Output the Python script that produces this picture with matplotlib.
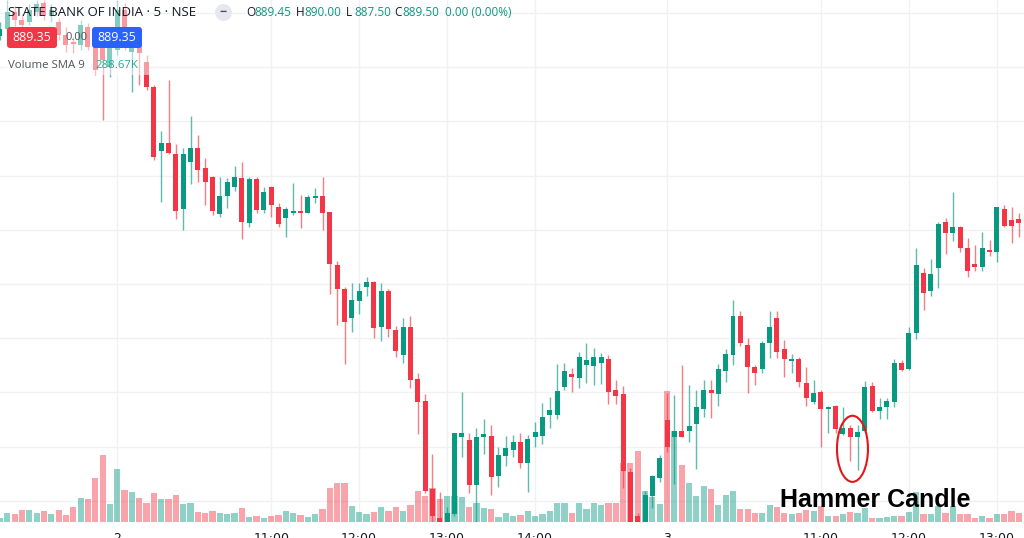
import numpy as np
import pandas as pd
import matplotlib
matplotlib.use('Agg')
import matplotlib.pyplot as plt
from matplotlib.patches import Ellipse, Circle, FancyBboxPatch, Rectangle
from matplotlib.transforms import IdentityTransform, blended_transform_factory

"""
SBIN 5-minute candles (NSE), read off the screenshot.
One row of each list = 10 candles, first candle is 30 Dec 14:10.
"""

opens = [
    892.58, 892.70, 893.02, 892.87, 892.83, 893.02, 893.18, 892.94, 892.83, 892.59,
    892.47, 892.41, 892.74, 892.41, 892.35, 892.00, 892.32, 893.06, 892.28, 892.41,
    892.10, 891.63, 890.45, 890.60, 890.40, 889.38, 890.25, 890.51, 890.14, 889.97,
    889.29, 889.62, 889.79, 889.96, 889.13, 889.94, 889.37, 889.79, 889.42, 889.22,
    889.31, 889.35, 889.31, 889.59, 889.62, 889.33, 888.35, 887.91, 887.37, 887.69,
    887.94, 888.04, 887.21, 887.87, 887.15, 886.69, 887.21, 886.25, 885.84, 884.22,
    883.68, 883.59, 883.76, 885.18, 885.12, 884.29, 885.18, 885.20, 884.46, 884.83,
    884.94, 885.09, 884.70, 885.18, 885.20, 885.58, 885.58, 886.10, 886.34, 886.26,
    886.51, 886.49, 886.54, 886.62, 886.04, 885.97, 884.53, 883.72, 883.59, 884.09,
    884.42, 885.49, 885.18, 885.29, 885.29, 885.42, 885.69, 886.04, 885.97, 886.39,
    886.69, 887.41, 886.87, 886.47, 886.43, 886.91, 887.37, 886.80, 886.58, 886.62,
    886.17, 885.82, 886.01, 885.69, 885.75, 885.23, 885.34, 885.18, 885.29, 886.12,
    885.66, 885.73, 885.82, 886.54, 886.43, 887.10, 888.20, 887.87, 888.30, 889.14,
    888.94, 889.05, 888.66, 888.37, 888.31, 888.63, 888.59, 889.38, 889.18, 889.20,
]
highs = [
    892.83, 893.24, 893.13, 892.98, 893.17, 893.24, 893.24, 893.17, 892.91, 892.74,
    892.56, 892.87, 892.82, 892.50, 892.69, 892.50, 893.24, 893.18, 892.59, 892.72,
    892.23, 891.67, 890.82, 891.76, 890.58, 890.51, 891.10, 890.75, 890.32, 889.99,
    889.97, 889.96, 890.18, 890.25, 889.97, 889.97, 889.79, 889.81, 889.49, 889.42,
    889.86, 889.64, 889.64, 889.77, 889.97, 889.33, 888.42, 887.94, 888.02, 888.02,
    888.13, 888.06, 888.02, 887.91, 887.23, 887.37, 887.41, 886.36, 885.97, 884.86,
    884.16, 883.89, 885.25, 886.01, 885.25, 885.34, 885.51, 885.40, 885.00, 885.20,
    885.21, 885.25, 885.21, 885.45, 885.80, 885.92, 886.52, 886.54, 886.45, 886.75,
    886.91, 886.82, 886.73, 886.69, 886.23, 886.12, 884.61, 883.78, 884.18, 884.48,
    884.85, 885.99, 885.95, 886.51, 886.14, 886.04, 886.23, 886.23, 886.52, 886.80,
    887.70, 887.50, 887.00, 886.51, 886.95, 887.50, 887.50, 886.97, 886.71, 886.65,
    886.47, 886.23, 886.04, 885.75, 885.77, 885.73, 885.40, 885.40, 886.21, 886.19,
    885.90, 885.90, 886.62, 886.60, 887.21, 888.66, 888.30, 888.46, 889.14, 889.22,
    889.70, 889.07, 888.85, 888.72, 888.96, 888.81, 889.42, 889.46, 889.42, 889.31,
]
lows = [
    892.50, 892.69, 892.76, 892.69, 892.78, 892.94, 892.87, 892.83, 892.50, 892.28,
    892.26, 892.32, 892.32, 891.86, 891.03, 891.82, 892.23, 892.32, 891.54, 891.67,
    891.58, 890.29, 889.51, 890.40, 889.20, 889.00, 889.85, 889.88, 889.46, 889.27,
    889.24, 889.40, 889.72, 888.83, 889.05, 889.31, 889.31, 889.24, 889.05, 888.87,
    889.27, 889.03, 889.31, 889.49, 889.00, 887.82, 887.24, 886.52, 887.11, 887.45,
    887.78, 887.00, 886.95, 887.02, 886.65, 886.54, 886.08, 885.23, 884.14, 883.61,
    883.57, 883.57, 883.72, 884.81, 884.14, 883.61, 884.86, 884.11, 884.25, 884.64,
    884.81, 884.61, 884.16, 885.00, 885.05, 885.34, 885.51, 886.04, 886.01, 886.08,
    886.17, 886.14, 886.15, 885.79, 885.79, 884.24, 883.55, 883.57, 883.57, 883.87,
    884.35, 884.90, 884.31, 885.18, 885.09, 884.59, 885.55, 885.53, 885.75, 886.19,
    886.51, 886.86, 885.99, 886.14, 886.36, 886.63, 886.63, 886.28, 886.36, 886.10,
    885.75, 885.79, 885.00, 885.25, 885.25, 885.21, 884.73, 884.57, 885.27, 885.64,
    885.51, 885.51, 885.73, 886.39, 886.41, 886.99, 887.52, 887.78, 887.93, 888.55,
    888.79, 888.59, 888.13, 888.24, 888.24, 888.52, 888.41, 889.05, 888.76, 888.87,
]
closes = [
    892.70, 893.02, 892.87, 892.78, 893.06, 893.17, 892.94, 893.06, 892.59, 892.41,
    892.43, 892.78, 892.37, 891.95, 892.13, 892.37, 893.06, 892.41, 892.45, 892.26,
    891.63, 890.34, 890.60, 890.42, 889.35, 890.40, 890.51, 890.10, 889.88, 889.35,
    889.62, 889.88, 889.97, 889.14, 889.94, 889.37, 889.70, 889.46, 889.11, 889.38,
    889.33, 889.31, 889.61, 889.62, 889.31, 888.37, 887.91, 887.30, 887.70, 887.87,
    888.04, 887.19, 887.87, 887.17, 886.76, 887.21, 886.23, 885.82, 884.18, 883.72,
    883.61, 883.78, 885.25, 885.25, 884.29, 885.18, 885.23, 884.44, 884.85, 884.98,
    885.09, 884.70, 885.14, 885.27, 885.55, 885.68, 886.03, 886.39, 886.28, 886.65,
    886.60, 886.65, 886.65, 886.01, 885.93, 884.55, 883.59, 883.61, 884.11, 884.46,
    884.79, 885.00, 885.29, 885.18, 885.38, 885.73, 886.04, 885.99, 886.43, 886.71,
    887.41, 886.91, 886.47, 886.36, 886.91, 887.21, 886.75, 886.62, 886.62, 886.19,
    885.90, 885.99, 885.69, 885.71, 885.33, 885.34, 885.18, 885.27, 886.10, 885.66,
    885.73, 885.84, 886.54, 886.41, 887.10, 888.35, 887.83, 888.18, 889.11, 888.94,
    889.05, 888.66, 888.24, 888.31, 888.66, 888.59, 889.42, 889.07, 889.07, 889.13,
]
# volume in thousands of shares
volumes = [
    144, 324, 288, 432, 432, 324, 396, 288, 432, 252,
    540, 864, 828, 1584, 2412, 648, 1908, 1152, 1080, 864,
    684, 1044, 828, 828, 972, 648, 684, 360, 324, 396,
    324, 288, 324, 504, 180, 216, 144, 216, 252, 396,
    324, 252, 180, 288, 468, 1224, 1404, 1404, 576, 360,
    288, 360, 540, 396, 540, 396, 612, 1116, 936, 1224,
    828, 936, 936, 900, 540, 684, 504, 468, 180, 324,
    216, 252, 396, 216, 288, 396, 684, 684, 324, 684,
    468, 684, 612, 684, 684, 2124, 2124, 2556, 1116, 900,
    648, 4716, 3276, 2052, 1404, 936, 1296, 1188, 612, 972,
    1116, 468, 468, 324, 324, 612, 540, 324, 288, 324,
    432, 396, 576, 216, 216, 288, 360, 324, 504, 144,
    144, 180, 216, 216, 360, 1080, 288, 288, 576, 324,
    576, 288, 288, 144, 216, 144, 288, 288, 396, 324,
]

# trading sessions shown: tail of 30 Dec, full 2 Jan, morning of 3 Jan
sessions = [('2022-12-30 14:10', 16), ('2023-01-02 09:15', 75), ('2023-01-03 09:15', 49)]
times = pd.DatetimeIndex(np.concatenate(
    [pd.date_range(s, periods=n, freq='5min').values for s, n in sessions]))

df = pd.DataFrame({'open': opens, 'high': highs, 'low': lows,
                   'close': closes, 'volume': volumes}, index=times)

UP = '#089981'
DOWN = '#f23645'
W, H = 1024, 538

x = np.arange(len(df))
up = (df['close'] >= df['open']).values
colors = np.where(up, UP, DOWN)

# time axis labels: day number at the open, round hours 11-14
tick_pos, tick_lab = [], []
for i, t in enumerate(df.index):
    if t.hour == 9 and t.minute == 15:
        tick_pos.append(i)
        tick_lab.append(str(t.day))
    elif t.minute == 0 and t.hour in (11, 12, 13, 14) and t.date() != df.index[0].date():
        tick_pos.append(i)
        tick_lab.append(t.strftime('%H:%M'))

fig = plt.figure(figsize=(W / 100, H / 100), dpi=100)
rect = [0, 16 / H, 1, 522 / H]
ax_vol = fig.add_axes(rect)
ax = fig.add_axes(rect, sharex=ax_vol)
ax.patch.set_visible(False)

# grid (drawn on the back axes)
for p in tick_pos:
    ax_vol.axvline(p, color='#f0f1f4', lw=1, zorder=0)
grid_tr = blended_transform_factory(ax_vol.transAxes, ax.transData)
for level in range(883, 895):
    ax_vol.plot([0, 1], [level, level], transform=grid_tr, color='#f0f1f4', lw=1, zorder=0)

# volume
ax_vol.bar(x, df['volume'], width=0.85, color=colors, alpha=0.45, linewidth=0, zorder=1)
ax_vol.set_ylim(0, 18792)

# candles
ax.vlines(x, df['low'], df['high'], colors=colors, lw=1.0, alpha=0.65, zorder=2)
body_lo = np.minimum(df['open'], df['close'])
body_h = np.maximum(np.abs(df['close'] - df['open']), 0.035)
ax.bar(x, body_h, bottom=body_lo, width=0.68, color=colors, linewidth=0, zorder=3)

ax.set_xlim(0, W / 7.33)
ax.set_ylim(883.61, 893.24)

for a in (ax, ax_vol):
    for s in a.spines.values():
        s.set_visible(False)
    a.set_yticks([])
ax.tick_params(axis='x', labelbottom=False, length=0)
ax_vol.set_xticks(tick_pos, tick_lab)
ax_vol.tick_params(axis='x', length=0, pad=7, labelsize=9, labelcolor='#131722')

# hammer annotation
ax.add_patch(Ellipse((116.3, 884.96), 4.23, 1.22, fill=False,
                     edgecolor='#e3161b', lw=1.5, zorder=6))
fig.text(780 / W, 1 - 507 / H, 'Hammer Candle', fontsize=18, fontweight='bold',
         family='Liberation Sans', color='black', va='baseline', ha='left')

# legend block (TradingView header)
ident = IdentityTransform()
ax.add_patch(Rectangle((5 / W, 1 - 75 / H), 145 / W, 75 / H, transform=fig.transFigure,
                       facecolor='white', alpha=0.5, edgecolor='none', zorder=5))
font = ['Open Sans', 'DejaVu Sans']


def ftext(px, py, s, **kw):
    kw.setdefault('va', 'center')
    kw.setdefault('ha', 'left')
    kw.setdefault('family', font)
    return fig.text(px / W, 1 - py / H, s, **kw)


ftext(8, 13, 'STATE BANK OF INDIA · 5 · NSE', fontsize=9.5, color='#131722')
fig.patches.append(Circle((223.5, H - 12.5), 8.5, transform=ident,
                          facecolor='#e6e8ee', edgecolor='none'))
ftext(223.5, 12, '−', fontsize=9, color='#50535e', ha='center', fontweight='bold')

ohlc = [(246, 'O', '889.45'), (296, 'H', '890.00'), (346, 'L', '887.50'), (394, 'C', '889.50')]
for px0, lab, val in ohlc:
    ftext(px0, 13, lab, fontsize=8.5, color='#131722')
    ftext(px0 + 8.5, 13, val, fontsize=8.5, color=UP)
ftext(445, 13, '0.00 (0.00%)', fontsize=8.5, color=UP)

for x0, col in ((7, DOWN), (92, '#2962ff')):
    fig.patches.append(FancyBboxPatch((x0, H - 48), 50, 21,
                                      boxstyle='round,pad=0,rounding_size=3',
                                      transform=ident, facecolor=col, edgecolor='none'))
    ftext(x0 + 25, 37.5, '889.35', fontsize=9, color='white', ha='center')
ftext(65, 37.5, '0.00', fontsize=8, color='#50535e')

ftext(8, 65, 'Volume SMA 9', fontsize=8.2, color='#50535e')
ftext(95, 65, '288.67K', fontsize=8.2, color='#22ab94')

fig.savefig('out.png', dpi=100)
